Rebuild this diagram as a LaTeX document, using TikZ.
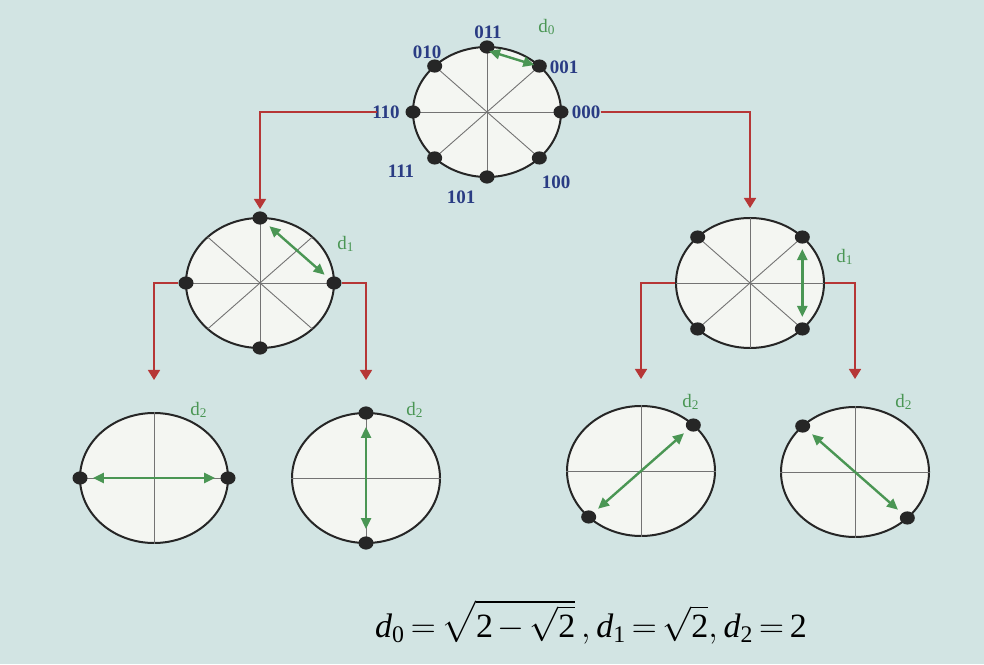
\documentclass[tikz,border=0pt]{standalone}
\usepackage{amsmath}
\usepackage{fontspec}
\setmainfont{Liberation Serif}
\usetikzlibrary{arrows.meta,calc,shapes.geometric}
\definecolor{bgcol}{RGB}{210,228,227}
\definecolor{discfill}{RGB}{244,246,242}
\definecolor{bitblue}{RGB}{42,60,132}
\definecolor{distgreen}{RGB}{74,150,84}
\definecolor{branchred}{RGB}{182,54,54}
\newcommand\dn[1]{\textrm{#1}}

\begin{document}
\begin{tikzpicture}[
  x=0.5pt,y=0.5pt,
  disc/.style={draw=black!85,line width=1pt,fill=discfill,ellipse,minimum width=74pt,minimum height=65pt,inner sep=0pt},
  spoke/.style={draw=black!55,line width=0.45pt},
  sym/.style={ellipse,fill=black!85,minimum width=7.5pt,minimum height=6.6pt,inner sep=0pt},
  bits/.style={text=bitblue,font=\bfseries\fontsize{9.5}{10}\selectfont,inner sep=0pt},
  dist/.style={text=distgreen,font=\fontsize{9.5}{10}\selectfont,inner sep=0pt},
  branch/.style={draw=branchred,line width=0.8pt,-{Triangle[length=5pt,width=6pt]}},
  dgap/.style={draw=distgreen,line width=1.2pt,{Triangle[length=5.5pt,width=5pt]}-{Triangle[length=5.5pt,width=5pt]},shorten <=2.5pt,shorten >=2.5pt}
]
  \fill[bgcol] (0,0) rectangle (984,664);
  \useasboundingbox (0,0) rectangle (984,664);

  \node[disc] (T) at (487,552) {};
  \node[disc] (ML) at (260,381) {};
  \node[disc] (MR) at (750,381) {};
  \node[disc] (BA) at (154,186) {};
  \node[disc] (BB) at (366,186) {};
  \node[disc] (BC) at (641,193) {};
  \node[disc] (BD) at (855,192) {};

  \foreach \c in {T,ML,MR}
    \foreach \a in {0,45,90,135}
      \draw[spoke] ($(\c)+(\a:74 and 65)$) -- ($(\c)+(\a+180:74 and 65)$);
  \foreach \c in {BA,BB,BC,BD} {
    \draw[spoke] (\c.west) -- (\c.east);
    \draw[spoke] (\c.north) -- (\c.south);
  }

  \foreach \c/\angles in {T/{0,45,90,135,180,225,270,315},ML/{0,90,180,270},MR/{45,135,225,315},
                          BA/{0,180},BB/{90,270},BC/{45,225},BD/{135,315}}
    \foreach \a in \angles
      \node[sym] (\c\a) at ($(\c)+(\a:74 and 65)$) {};

  \node[bits] (l011) at (488,632) {011};
  \node[bits] (l010) at (427,612) {010};
  \node[bits] (l001) at (564,597) {001};
  \node[bits] (l110) at (386,552) {110};
  \node[bits] (l000) at (586,552) {000};
  \node[bits] (l111) at (401,493) {111};
  \node[bits] (l100) at (556,482) {100};
  \node[bits] (l101) at (461,467) {101};

  \node[dist] (d0) at (547,637) {d\textsubscript{0}};
  \node[dist] (d1l) at (346,420) {d\textsubscript{1}};
  \node[dist] (d1r) at (845,407) {d\textsubscript{1}};
  \node[dist] (d2a) at (199,254) {d\textsubscript{2}};
  \node[dist] (d2b) at (415,254) {d\textsubscript{2}};
  \node[dist] (d2c) at (691,262) {d\textsubscript{2}};
  \node[dist] (d2d) at (904,262) {d\textsubscript{2}};

  \draw[branch,shorten <=-2.5pt,shorten >=1pt] (l110.west) -| (ML90);
  \draw[branch,shorten >=4.5pt] (l000.east) -| (MR.north);
  \draw[branch,shorten >=16pt] (ML180) -| (BA.north);
  \draw[branch,shorten >=16pt] (ML0) -| (BB.north);
  \draw[branch,shorten >=13pt] (MR.west) -| (BC.north);
  \draw[branch,shorten >=13.5pt] (MR.east) -| (BD.north);

  \draw[dgap,shorten <=0pt,shorten >=0pt] ($(T90)+(2,-4)$) -- ($(T45)+(-5,1)$);
  \draw[dgap] (ML90) -- (ML0);
  \draw[dgap] (MR45) -- (MR315);
  \draw[dgap] (BA180) -- (BA0);
  \draw[dgap,shorten <=3.5pt,shorten >=3.5pt] (BB90) -- (BB270);
  \draw[dgap] (BC225) -- (BC45);
  \draw[dgap] (BD135) -- (BD315);

  \node[anchor=base,font=\fontsize{17}{21}\selectfont,inner sep=0pt] (eq) at (591,27)
    {\thickmuskip=3mu\medmuskip=2.5mu$\mathit{d}_{\dn{0}}=\sqrt{\dn{2}-\sqrt{\dn{2}}}\,,\mathit{d}_{\dn{1}}=\sqrt{\dn{2}},\mathit{d}_{\dn{2}}=\dn{2}$};
\end{tikzpicture}
\end{document}
